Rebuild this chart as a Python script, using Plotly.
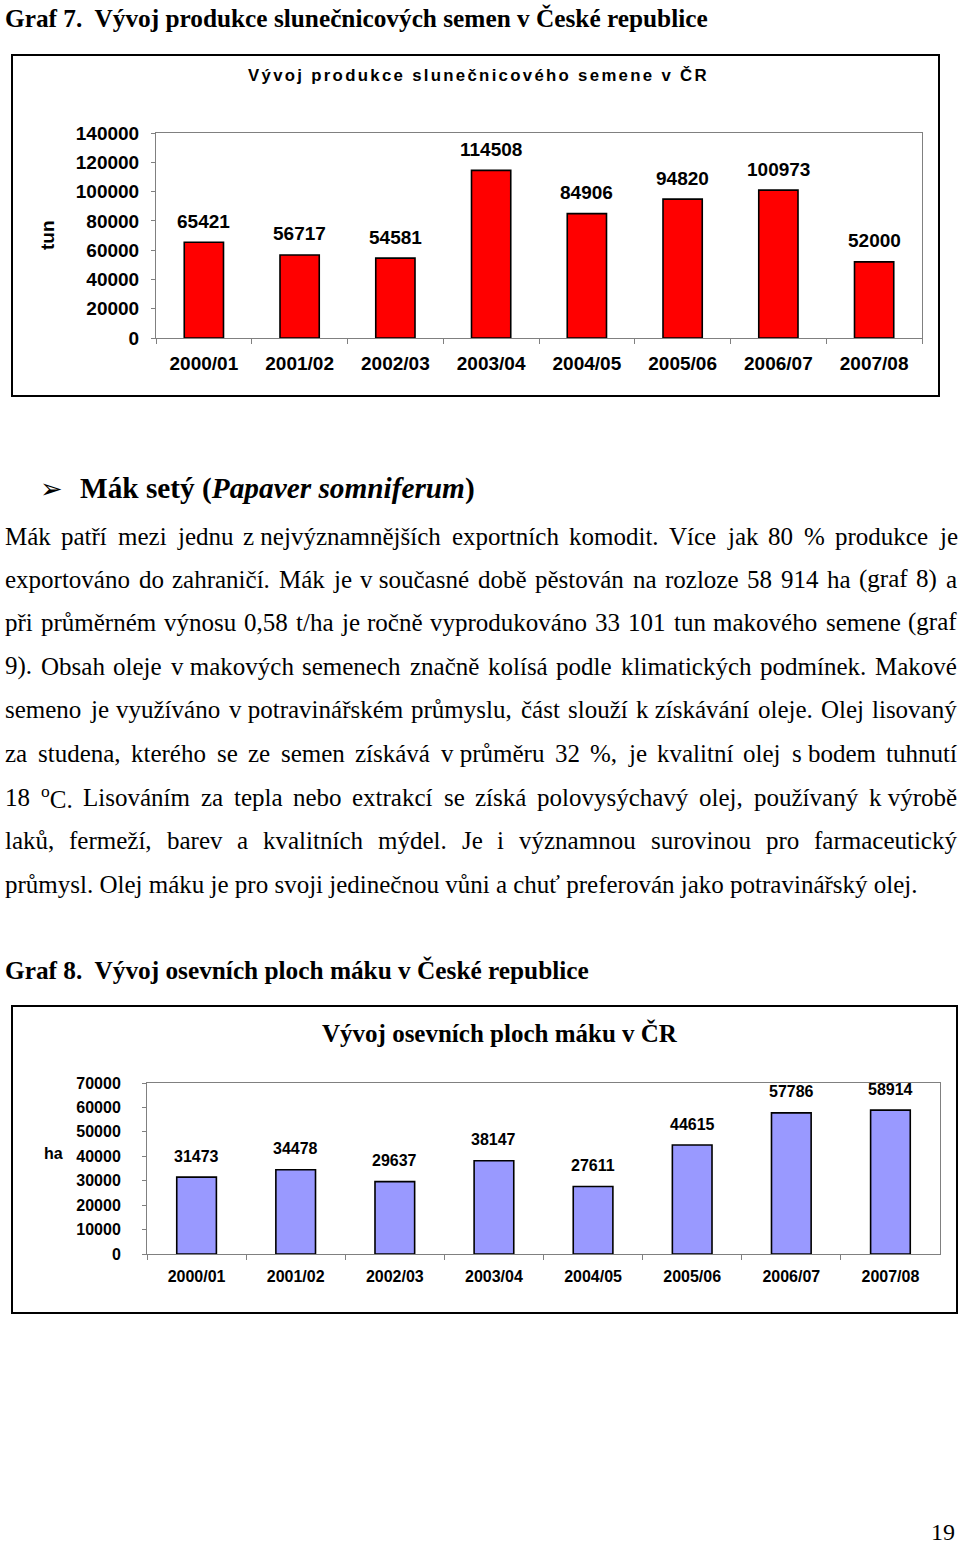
import re
import unicodedata
import plotly.graph_objects as go

W, H = 960, 1545

# ---------------- data ----------------
seasons = ["2000/01", "2001/02", "2002/03", "2003/04", "2004/05", "2005/06", "2006/07", "2007/08"]
sunflower_tonnes = [65421, 56717, 54581, 114508, 84906, 94820, 100973, 52000]
poppy_area_ha = [31473, 34478, 29637, 38147, 27611, 44615, 57786, 58914]
sun_yticks = [0, 20000, 40000, 60000, 80000, 100000, 120000, 140000]
poppy_yticks = [0, 10000, 20000, 30000, 40000, 50000, 60000, 70000]

heading7 = "Graf 7.  Vývoj produkce slunečnicových semen v České republice"
heading8 = "Graf 8.  Vývoj osevních ploch máku v České republice"
chart1_title = "Vývoj produkce slunečnicového semene v ČR"
chart2_title = "Vývoj osevních ploch máku v ČR"
paragraph_lines = [
    "Mák patří mezi jednu z\u00a0nejvýznamnějších exportních komodit. Více jak 80 % produkce je",
    "exportováno do zahraničí. Mák je v\u00a0současné době pěstován na rozloze 58 914 ha (graf 8) a",
    "při průměrném výnosu 0,58 t/ha je ročně vyprodukováno 33 101 tun makového semene (graf",
    "9). Obsah oleje v\u00a0makových semenech značně kolísá podle klimatických podmínek. Makové",
    "semeno je využíváno v\u00a0potravinářském průmyslu, část slouží k\u00a0získávání oleje. Olej lisovaný",
    "za studena, kterého se ze semen získává v\u00a0průměru 32 %, je kvalitní olej s\u00a0bodem tuhnutí",
    "18 <sup>o</sup>C. Lisováním za tepla nebo extrakcí se získá polovysýchavý olej, používaný k\u00a0výrobě",
    "laků, fermeží, barev a kvalitních mýdel. Je i významnou surovinou pro farmaceutický",
    "průmysl. Olej máku je pro svoji jedinečnou vůni a chuť preferován jako potravinářský olej.",
]

# ---------------- helpers ----------------
SERIF = "Liberation Serif"
SANS = "Liberation Sans"

REG = {' ': 250, '!': 333, '%': 833, '(': 333, ')': 333, ',': 250, '-': 333, '.': 250, '/': 278, ':': 278}
for d in "0123456789":
    REG[d] = 500
REG.update(dict(zip("ABCDEFGHIJKLMNOPQRSTUVWXYZ",
                    [722, 667, 667, 722, 611, 556, 722, 722, 333, 389, 722, 611, 889, 722, 722, 556, 722, 667, 556, 611, 722, 722, 944, 722, 722, 611])))
REG.update(dict(zip("abcdefghijklmnopqrstuvwxyz",
                    [444, 500, 444, 500, 444, 333, 500, 500, 278, 278, 500, 278, 778, 500, 500, 500, 500, 333, 389, 278, 500, 500, 722, 500, 500, 444])))
REG['ť'] = 326


def units(s, table=REG):
    total = 0.0
    for part in re.split(r'(<sup>.*?</sup>)', s):
        if part.startswith('<sup>'):
            inner, scale = part[5:-6], 0.7
        else:
            inner, scale = part, 1.0
        for ch in inner:
            if ch == '\u00a0':
                ch = ' '
            base = unicodedata.normalize('NFD', ch)[0]
            total += table.get(ch, table.get(base, 500)) * scale
    return total / 1000.0


def px(x):
    return x / W


def py(y):
    return 1 - y / H


annotations = []


def add_text(text, x, y, size, family=SERIF, weight="normal", xanchor="left", color="black", angle=0):
    annotations.append(dict(
        text=text, x=px(x), y=py(y), xref="paper", yref="paper", showarrow=False,
        xanchor=xanchor, yanchor="middle", borderpad=0, textangle=angle,
        font=dict(family=family, size=size, color=color, weight=weight)))


# ---------------- page text ----------------
add_text(heading7, 4, 18, 25.3, weight="bold")
add_text(heading8, 4, 970, 25.3, weight="bold")
add_text("➢", 39, 488, 27, family="DejaVu Sans")
add_text("<b>Mák setý (<i>Papaver somniferum</i>)</b>", 79, 488, 29.3)
add_text("19", 956, 1532, 24, xanchor="right")

BODY = 25
LEFT, RIGHT = 4, 956
line_y = [536, 579, 622, 666, 709, 753, 797, 840, 884]
for i, (line, yy) in enumerate(zip(paragraph_lines, line_y)):
    if i == len(paragraph_lines) - 1:
        add_text(line, LEFT, yy, BODY)
        continue
    words = line.split(' ')
    widths = [units(w) * BODY for w in words]
    gap = (RIGHT - LEFT - sum(widths)) / (len(words) - 1)
    xx = LEFT
    for w, wd in zip(words, widths):
        add_text(w, xx, yy, BODY)
        xx += wd + gap

# chart titles / axis titles
add_text('<span style="letter-spacing:2.3px">' + chart1_title + '</span>', 478, 76, 16.8,
         family=SANS, weight="bold", xanchor="center")
add_text(chart2_title, 500, 1033, 25, weight="bold", xanchor="center")
add_text("tun", 48, 235, 19, family=SANS, weight="bold", xanchor="center", angle=-90)
add_text("ha", 53, 1153, 16, family=SANS, weight="bold", xanchor="center")

# ---------------- charts ----------------
fig = go.Figure()
fig.add_trace(go.Bar(x=seasons, y=sunflower_tonnes, xaxis="x", yaxis="y", width=0.41,
                     marker=dict(color="#FF0000", line=dict(color="black", width=1.6)),
                     hoverinfo="skip"))
fig.add_trace(go.Bar(x=seasons, y=poppy_area_ha, xaxis="x2", yaxis="y2", width=0.40,
                     marker=dict(color="#9999FF", line=dict(color="black", width=1.6)),
                     hoverinfo="skip"))

for s, v in zip(seasons, sunflower_tonnes):
    annotations.append(dict(text=str(v), x=s, y=v, xref="x", yref="y", showarrow=False,
                            yanchor="middle", yshift=21,
                            font=dict(family=SANS, size=19, color="black", weight="bold")))
for s, v in zip(seasons, poppy_area_ha):
    annotations.append(dict(text=str(v), x=s, y=v, xref="x2", yref="y2", showarrow=False,
                            yanchor="middle", yshift=21,
                            font=dict(family=SANS, size=16, color="black", weight="bold")))

axis_common = dict(showline=True, linecolor="#808080", linewidth=1, mirror=True, showgrid=False,
                   zeroline=False, ticks="outside", tickcolor="#808080", fixedrange=True,
                   automargin=False)

fig.update_layout(
    width=W, height=H, margin=dict(l=0, r=0, t=0, b=0, pad=0, autoexpand=False),
    paper_bgcolor="white", plot_bgcolor="white", showlegend=False,
    annotations=annotations,
    xaxis=dict(domain=[px(156), px(922)], anchor="y", type="category", tickson="boundaries",
               ticklen=5, ticklabelstandoff=8,
               tickfont=dict(family=SANS, size=19, color="black", weight="bold"), **axis_common),
    yaxis=dict(domain=[py(338), py(133)], anchor="x", range=[0, 140000], tickvals=sun_yticks,
               tickformat="d", ticklen=4, ticklabelstandoff=8,
               tickfont=dict(family=SANS, size=19, color="black", weight="bold"), **axis_common),
    xaxis2=dict(domain=[px(147), px(940)], anchor="y2", type="category", tickson="boundaries",
                ticklen=5, ticklabelstandoff=8,
                tickfont=dict(family=SANS, size=16, color="black", weight="bold"), **axis_common),
    yaxis2=dict(domain=[py(1254), py(1083)], anchor="x2", range=[0, 70000], tickvals=poppy_yticks,
                tickformat="d", ticklen=4, ticklabelstandoff=18,
                tickfont=dict(family=SANS, size=16, color="black", weight="bold"), **axis_common),
    shapes=[
        dict(type="rect", xref="paper", yref="paper", x0=px(12), x1=px(939), y0=py(396), y1=py(55),
             line=dict(color="black", width=2), layer="below"),
        dict(type="rect", xref="paper", yref="paper", x0=px(12), x1=px(957), y0=py(1313), y1=py(1006),
             line=dict(color="black", width=2), layer="below"),
    ],
)

fig.write_html("out.html", config={"displayModeBar": False},
               post_script="document.body.style.margin='0';document.body.style.overflow='hidden';")
